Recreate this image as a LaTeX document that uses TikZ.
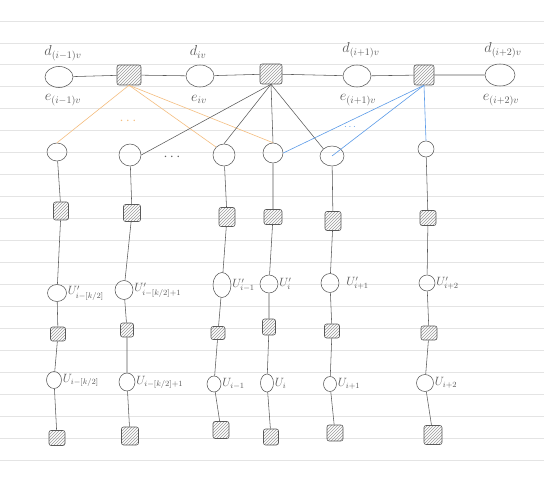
\documentclass[tikz,border=0pt]{standalone}
\usetikzlibrary{shapes.geometric,patterns}
\definecolor{ink}{HTML}{5A5A5A}
\definecolor{paper}{HTML}{E4E4E4}
\definecolor{orng}{HTML}{F5BE80}
\definecolor{blu}{HTML}{5B9BE8}
\begin{document}
\begin{tikzpicture}[x=1pt,y=-1pt,
  var/.style={ellipse,draw=ink,line width=0.55pt,inner sep=0pt},
  fac/.style={rectangle,draw=ink,line width=0.55pt,rounded corners=2pt,pattern=north east lines,pattern color=ink!60,inner sep=0pt},
  lab/.style={text=ink,font=\Large,inner sep=1pt},
  slab/.style={text=ink,font=\large,inner sep=1pt,anchor=west},
  edge/.style={draw=ink,line width=0.55pt},
  oedge/.style={draw=orng,line width=0.6pt},
  bedge/.style={draw=blu,line width=0.6pt}]
\useasboundingbox (0,0) rectangle (544,484);
\fill[white] (0,0) rectangle (544,484);
% lined paper
\foreach \k in {0,...,20}{\draw[paper,line width=0.8pt] (0,{21+21.95*\k}) -- (544,{21+21.95*\k});}
% top chain
\node[var,minimum width=28pt,minimum height=21pt] (c1) at (59,77) {};
\node[fac,minimum width=24pt,minimum height=20pt] (f1) at (129,75) {};
\node[var,minimum width=28pt,minimum height=22pt] (c2) at (200,76) {};
\node[fac,minimum width=22pt,minimum height=20pt] (f2) at (271,74) {};
\node[var,minimum width=28pt,minimum height=22pt] (c3) at (357,76) {};
\node[fac,minimum width=20pt,minimum height=20pt] (f3) at (424,75) {};
\node[var,minimum width=30pt,minimum height=22pt] (c4) at (500,75) {};
\draw[edge] (c1) -- (f1) -- (c2) -- (f2) -- (c3) -- (f3) -- (c4);
% top labels
\node[lab] (ld1) at (63,53) {$d_{(i-1)v}$};
\node[lab] (le1) at (63,100) {$e_{(i-1)v}$};
\node[lab] (ld2) at (198,52) {$d_{iv}$};
\node[lab] (le2) at (199,99) {$e_{iv}$};
\node[lab] (ld3) at (361,50) {$d_{(i+1)v}$};
\node[lab] (le3) at (358,100) {$e_{(i+1)v}$};
\node[lab] (ld4) at (503,50) {$d_{(i+2)v}$};
\node[lab] (le4) at (501,100) {$e_{(i+2)v}$};
% row 2 circles
\node[var,minimum width=20pt,minimum height=18pt] (a1) at (57,152) {};
\node[var,minimum width=22pt,minimum height=22pt] (a2) at (130,155) {};
\node[var,minimum width=22pt,minimum height=22pt] (a3) at (224,155) {};
\node[var,minimum width=20pt,minimum height=20pt] (a4) at (273,153) {};
\node[var,minimum width=24pt,minimum height=20pt] (a5) at (332,156) {};
\node[var,minimum width=16pt,minimum height=16pt] (a6) at (426,149) {};
% row 3 squares
\node[fac,minimum width=15pt,minimum height=18pt] (b1) at (61,211) {};
\node[fac,minimum width=17pt,minimum height=17pt] (b2) at (132,213) {};
\node[fac,minimum width=16pt,minimum height=19pt] (b3) at (227,217) {};
\node[fac,minimum width=18pt,minimum height=15pt] (b4) at (273,217) {};
\node[fac,minimum width=16pt,minimum height=19pt] (b5) at (333,221) {};
\node[fac,minimum width=16pt,minimum height=15pt] (b6) at (428,218) {};
% row 4 circles U'
\node[var,minimum width=19pt,minimum height=17pt] (u1) at (57,293) {};
\node[var,minimum width=18pt,minimum height=19pt] (u2) at (124,290) {};
\node[var,minimum width=18pt,minimum height=25pt] (u3) at (222,285) {};
\node[var,minimum width=18pt,minimum height=18pt] (u4) at (269,284) {};
\node[var,minimum width=18pt,minimum height=19pt] (u5) at (330,283) {};
\node[var,minimum width=16pt,minimum height=16pt] (u6) at (427,283) {};
\node[slab] (lu1) at (u1.east) {$U'_{i-[k/2]}$};
\node[slab] (lu2) at (u2.east) {$U'_{i-[k/2]+1}$};
\node[slab] (lu3) at (u3.east) {$U'_{i-1}$};
\node[slab] (lu4) at (u4.east) {$U'_{i}$};
\node[slab] (lu5) at ([xshift=6pt]u5.east) {$U'_{i+1}$};
\node[slab] (lu6) at (u6.east) {$U'_{i+2}$};
% row 5 squares
\node[fac,minimum width=15pt,minimum height=14pt] (g1) at (58,334) {};
\node[fac,minimum width=13pt,minimum height=14pt] (g2) at (127,330) {};
\node[fac,minimum width=14pt,minimum height=13pt] (g3) at (218,333) {};
\node[fac,minimum width=13pt,minimum height=16pt] (g4) at (269,327) {};
\node[fac,minimum width=15pt,minimum height=14pt] (g5) at (332,331) {};
\node[fac,minimum width=16pt,minimum height=14pt] (g6) at (429,333) {};
% row 6 circles U
\node[var,minimum width=15pt,minimum height=17pt] (w1) at (54,380) {};
\node[var,minimum width=16pt,minimum height=18pt] (w2) at (127,382) {};
\node[var,minimum width=14pt,minimum height=16pt] (w3) at (214,384) {};
\node[var,minimum width=13pt,minimum height=18pt] (w4) at (267,383) {};
\node[var,minimum width=13pt,minimum height=15pt] (w5) at (330,384) {};
\node[var,minimum width=17pt,minimum height=17pt] (w6) at (425,383) {};
\node[slab] (lw1) at (w1.east) {$U_{i-[k/2]}$};
\node[slab] (lw2) at (w2.east) {$U_{i-[k/2]+1}$};
\node[slab] (lw3) at (w3.east) {$U_{i-1}$};
\node[slab] (lw4) at (w4.east) {$U_{i}$};
\node[slab] (lw5) at (w5.east) {$U_{i+1}$};
\node[slab] (lw6) at (w6.east) {$U_{i+2}$};
% row 7 squares
\node[fac,minimum width=16pt,minimum height=15pt] (h1) at (57,438) {};
\node[fac,minimum width=17pt,minimum height=18pt] (h2) at (130,436) {};
\node[fac,minimum width=16pt,minimum height=17pt] (h3) at (221,430) {};
\node[fac,minimum width=15pt,minimum height=16pt] (h4) at (271,437) {};
\node[fac,minimum width=16pt,minimum height=16pt] (h5) at (335,433) {};
\node[fac,minimum width=18pt,minimum height=19pt] (h6) at (433,435) {};
% vertical chains
\foreach \i in {1,...,6}{\draw[edge] (a\i) -- (b\i) -- (u\i) -- (g\i) -- (w\i) -- (h\i);}
% orange connections
\draw[oedge] (f1.south) -- (a1.north);
\draw[oedge] (f1.south) -- (a3.north west);
\draw[oedge] (f1.south) -- (a4.north);
% black connections
\draw[edge] (f2.south) -- (a2.east);
\draw[edge] (f2.south) -- (a3.north);
\draw[edge] (f2.south) -- (a4.north);
\draw[edge] (f2.south) -- (a5.north west);
% blue connections
\draw[bedge] (f3.south) -- (a4.east);
\draw[bedge] (f3.south) -- (a5.center);
\draw[bedge] (f3.south) -- (a6.north);
% ellipsis marks
\node[text=orng,font=\Large] (o1) at (128,121) {$\cdots$};
\node[text=ink,font=\Large] (k1) at (172,157) {$\cdots$};
\node[text=blu,font=\normalsize] (q1) at (350,127) {$\cdots$};
\end{tikzpicture}
\end{document}
